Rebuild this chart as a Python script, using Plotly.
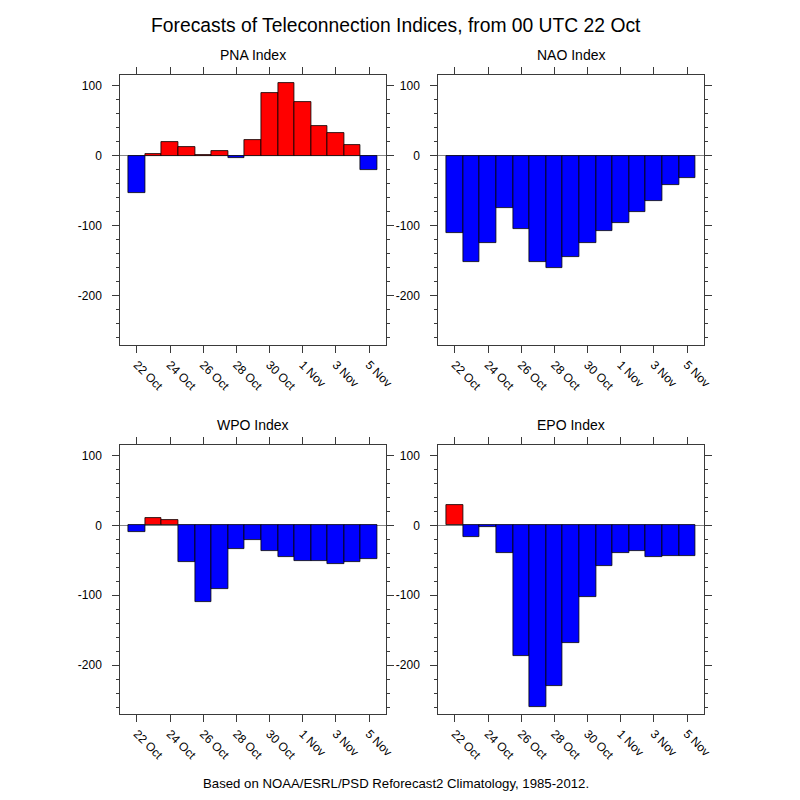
import plotly.graph_objects as go

dates = ["22 Oct", "23 Oct", "24 Oct", "25 Oct", "26 Oct", "27 Oct", "28 Oct", "29 Oct",
         "30 Oct", "31 Oct", "1 Nov", "2 Nov", "3 Nov", "4 Nov", "5 Nov"]
tick_labels = ["22 Oct", "24 Oct", "26 Oct", "28 Oct", "30 Oct", "1 Nov", "3 Nov", "5 Nov"]

pna = [-53, 2, 20, 13, 1, 6, -4, 22, 90, 103, 76, 42, 32, 15, -20]
nao = [-110, -151, -125, -74, -104, -151, -160, -145, -124, -107, -96, -80, -65, -42, -32]
wpo = [-9, 11, 7, -53, -109, -91, -34, -21, -37, -46, -51, -51, -55, -52, -48]
epo = [29, -16, -3, -40, -187, -260, -230, -168, -102, -58, -39, -36, -45, -44, -44]

panel_titles = ["PNA Index", "NAO Index", "WPO Index", "EPO Index"]
series = [pna, nao, wpo, epo]

y_tickvals = [100, 0, -100, -200]
y_ticktext = ["100", "0", "-100", "-200"]

FONT = "Liberation Sans, Arial, Helvetica, sans-serif"
W = H = 800
# panel frames in pixels (left, right, top, bottom)
frames = [
    (121.7, 390.0, 75.0, 345.0),
    (443.3, 711.7, 75.0, 345.0),
    (121.7, 390.0, 445.0, 714.0),
    (443.3, 711.7, 445.0, 714.0),
]

fig = go.Figure()
xs = list(range(len(dates)))
tick_idx = [dates.index(t) for t in tick_labels]
axis_color = "#3a3a3a"

layout = dict(
    width=W, height=H,
    margin=dict(l=0, r=0, t=0, b=0),
    paper_bgcolor="white", plot_bgcolor="white",
    showlegend=False,
    font=dict(family=FONT, color="black", size=12),
    bargap=0,
    annotations=[],
)

for i, (vals, title, fr) in enumerate(zip(series, panel_titles, frames)):
    n = i + 1
    xa = "x" if n == 1 else f"x{n}"
    ya = "y" if n == 1 else f"y{n}"
    colors = ["#ff0000" if v >= 0 else "#0000ff" for v in vals]
    fig.add_trace(go.Bar(
        x=xs, y=vals, width=1.0,
        marker=dict(color=colors, line=dict(color="black", width=0.8)),
        xaxis=xa, yaxis=ya, hoverinfo="skip",
    ))
    l, r, t, b = fr
    xkey = "xaxis" if n == 1 else f"xaxis{n}"
    ykey = "yaxis" if n == 1 else f"yaxis{n}"
    layout[xkey] = dict(
        domain=[l / W, r / W], anchor=ya,
        range=[-1, 15],
        tickmode="array", tickvals=tick_idx, ticktext=tick_labels,
        tickangle=45,
        ticks="outside", ticklen=7, tickwidth=1, tickcolor=axis_color,
        showline=True, linecolor=axis_color, linewidth=1.2, mirror="ticks",
        showgrid=False, zeroline=False,
        tickfont=dict(family=FONT, size=12, color="black"),
        fixedrange=True,
    )
    layout[ykey] = dict(
        domain=[1 - b / H, 1 - t / H], anchor=xa,
        range=[-270, 115],
        tickmode="array", tickvals=y_tickvals, ticktext=y_ticktext,
        ticks="outside", ticklen=7, tickwidth=1, tickcolor=axis_color,
        minor=dict(ticks="outside", ticklen=3.5, dtick=20, tick0=0, tickcolor=axis_color, tickwidth=1),
        showline=True, linecolor=axis_color, linewidth=1.2, mirror="ticks",
        showgrid=False,
        zeroline=True, zerolinecolor="#888888", zerolinewidth=1,
        tickfont=dict(family=FONT, size=12, color="black"),
        ticklabelstandoff=8,
        fixedrange=True,
    )
    layout["annotations"].append(dict(
        text=title, x=(l + r) / 2 / W, y=1 - (t - 20) / H,
        xref="paper", yref="paper", xanchor="center", yanchor="middle",
        showarrow=False, font=dict(family=FONT, size=14, color="black"),
    ))

layout["annotations"].append(dict(
    text="Forecasts of Teleconnection Indices, from 00 UTC 22 Oct",
    x=0.5, y=1 - 25 / H, xref="paper", yref="paper",
    xanchor="center", yanchor="middle", showarrow=False,
    font=dict(family=FONT, size=19.3, color="black"),
))
layout["annotations"].append(dict(
    text="Based on NOAA/ESRL/PSD Reforecast2 Climatology, 1985-2012.",
    x=0.5, y=1 - 783 / H, xref="paper", yref="paper",
    xanchor="center", yanchor="middle", showarrow=False,
    font=dict(family=FONT, size=13.2, color="black"),
))

fig.update_layout(**layout)
fig.write_html("out.html")
